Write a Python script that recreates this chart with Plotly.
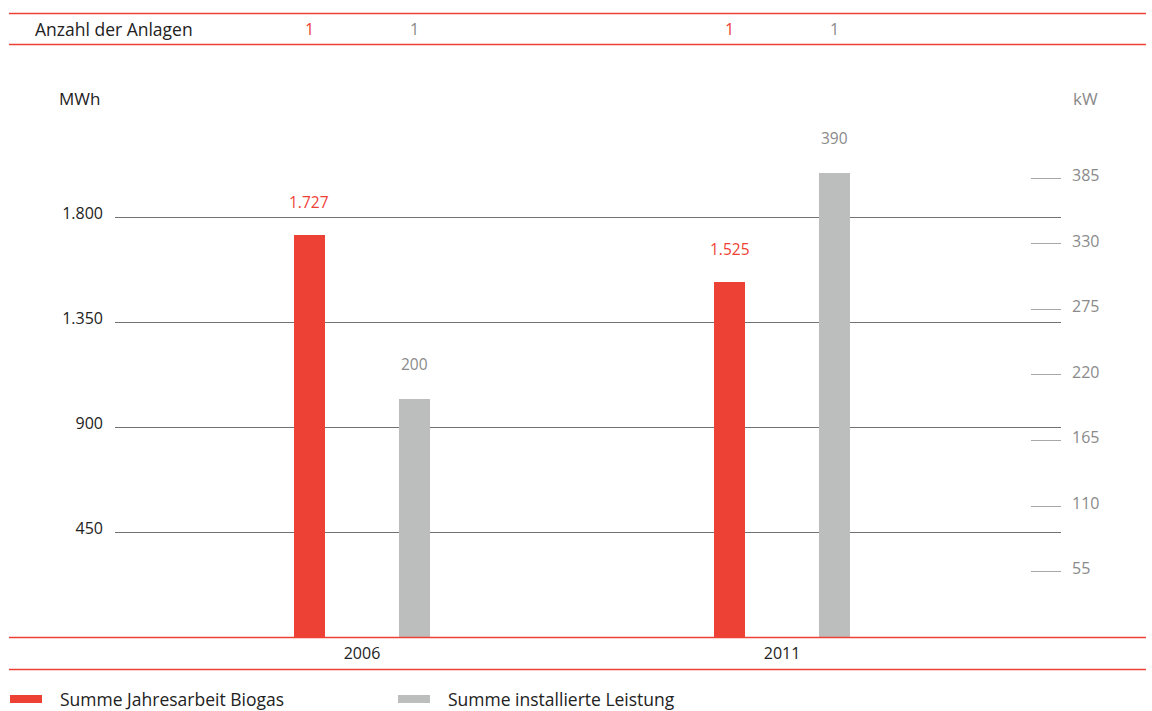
import plotly.graph_objects as go

# Data
years = ["2006", "2011"]
jahresarbeit_mwh = [1727, 1525]
leistung_kw = [200, 390]
anlagen_biogas = [1, 1]
anlagen_leistung = [1, 1]
mwh_ticks = [450, 900, 1350, 1800]
mwh_ticktext = ["450", "900", "1.350", "1.800"]
kw_ticks = [55, 110, 165, 220, 275, 330, 385]

RED = "#EE4136"
GREY_BAR = "#BCBEBE"
GREY_TXT = "#8A8A8A"
DARK = "#222222"
LINE_RED = "#EE4136"
FONT = "Open Sans"

W, H = 1152, 711


def px(x):
    return x / W


def py(y):
    return 1 - y / H


def de(v):
    return f"{v:,}".replace(",", ".")


BAR_W = 0.0738
HALF_GAP = 0.125

fig = go.Figure()
fig.add_trace(go.Bar(
    x=years, y=jahresarbeit_mwh, marker_color=RED, marker_line_width=0,
    width=BAR_W, offset=-HALF_GAP - BAR_W / 2, yaxis="y", name="Summe Jahresarbeit Biogas",
    showlegend=False, hoverinfo="x+y",
))
fig.add_trace(go.Bar(
    x=years, y=leistung_kw, marker_color=GREY_BAR, marker_line_width=0,
    width=BAR_W, offset=HALF_GAP - BAR_W / 2, yaxis="y2", name="Summe installierte Leistung",
    showlegend=False, hoverinfo="x+y",
))

annotations = []
# value labels above bars (category index used as x position)
for i, v in enumerate(jahresarbeit_mwh):
    annotations.append(dict(x=i - HALF_GAP, y=v, xref="x", yref="y", text=de(v), showarrow=False,
                            yanchor="bottom", yshift=20,
                            font=dict(family=FONT, size=15.5, color=RED)))
for i, v in enumerate(leistung_kw):
    annotations.append(dict(x=i + HALF_GAP, y=v, xref="x", yref="y2", text=de(v), showarrow=False,
                            yanchor="bottom", yshift=22,
                            font=dict(family=FONT, size=15.5, color=GREY_TXT)))
# Anzahl der Anlagen row
annotations.append(dict(x=px(33), y=py(29), xref="paper", yref="paper", text="Anzahl der Anlagen",
                        showarrow=False, xanchor="left", yanchor="middle",
                        font=dict(family=FONT, size=17.5, color=DARK)))
for i, (a, b) in enumerate(zip(anlagen_biogas, anlagen_leistung)):
    annotations.append(dict(x=i - HALF_GAP, y=py(29), xref="x", yref="paper", text=str(a),
                            showarrow=False, yanchor="middle",
                            font=dict(family=FONT, size=16, color=RED)))
    annotations.append(dict(x=i + HALF_GAP, y=py(29), xref="x", yref="paper", text=str(b),
                            showarrow=False, yanchor="middle",
                            font=dict(family=FONT, size=16, color=GREY_TXT)))
# axis units
annotations.append(dict(x=px(102), y=py(98), xref="paper", yref="paper", text="MWh", showarrow=False,
                        xanchor="right", yanchor="middle", font=dict(family=FONT, size=17, color=DARK)))
annotations.append(dict(x=px(1071), y=py(98), xref="paper", yref="paper", text="kW", showarrow=False,
                        xanchor="left", yanchor="middle", font=dict(family=FONT, size=17, color=GREY_TXT)))
# legend
legend_items = [("Summe Jahresarbeit Biogas", RED, 10), ("Summe installierte Leistung", GREY_BAR, 398)]
shapes = []
for label, col, x0 in legend_items:
    shapes.append(dict(type="rect", xref="paper", yref="paper", x0=px(x0), x1=px(x0 + 32),
                       y0=py(703), y1=py(695), fillcolor=col, line_width=0))
    annotations.append(dict(x=px(x0 + 48), y=py(699), xref="paper", yref="paper", text=label,
                            showarrow=False, xanchor="left", yanchor="middle",
                            font=dict(family=FONT, size=17.5, color=DARK)))

# horizontal frame lines
for yy in (13, 44, 637, 669):
    shapes.append(dict(type="line", xref="paper", yref="paper", x0=px(9), x1=px(1146),
                       y0=py(yy + 0.5), y1=py(yy + 0.5), line=dict(color=LINE_RED, width=1.3),
                       layer="above"))

fig.update_layout(
    width=W, height=H,
    margin=dict(l=0, r=0, t=0, b=0),
    paper_bgcolor="white", plot_bgcolor="white",
    barmode="overlay",
    bargap=0,
    showlegend=False,
    font=dict(family=FONT),
    xaxis=dict(
        type="category", domain=[px(115), px(1061)], range=[-0.588, 1.664],
        showgrid=False, zeroline=False, showline=False, ticks="",
        tickfont=dict(family=FONT, size=16, color=DARK), ticklabelstandoff=5,
        automargin=False, fixedrange=True,
    ),
    yaxis=dict(
        domain=[py(637), py(80)], range=[0, 2391],
        tickvals=mwh_ticks, ticktext=mwh_ticktext,
        showgrid=True, gridcolor="#727272", gridwidth=1.3, zeroline=False, showline=False,
        ticks="", tickfont=dict(family=FONT, size=16, color=DARK), ticklabelstandoff=11,
        ticklabelshift=-4,
        automargin=False, fixedrange=True,
    ),
    yaxis2=dict(
        overlaying="y", side="right", anchor="free", position=px(1061),
        range=[0, 467.7], tickvals=kw_ticks, showgrid=False, zeroline=False, showline=False,
        ticks="inside", ticklen=30, tickwidth=1, tickcolor="#A8A8A8",
        tickfont=dict(family=FONT, size=16, color=GREY_TXT), ticklabelstandoff=10,
        ticklabelshift=-3,
        automargin=False, fixedrange=True,
    ),
    shapes=shapes,
    annotations=annotations,
)

fig.write_html("out.html")
